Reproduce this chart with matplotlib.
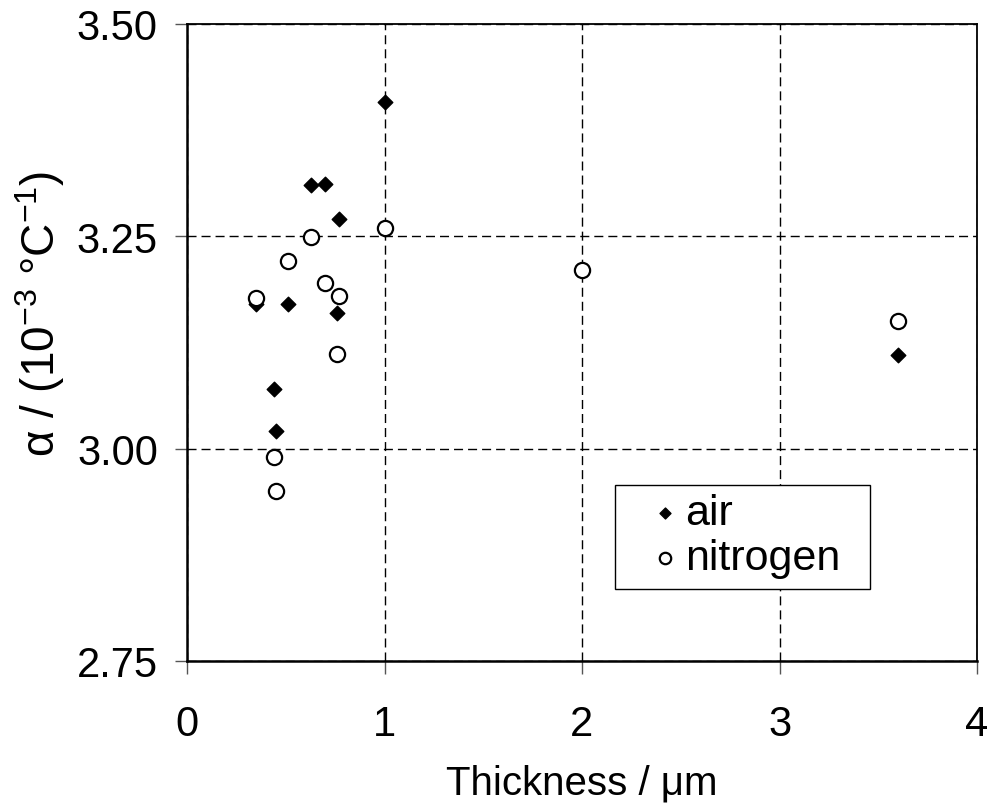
import matplotlib
matplotlib.use("Agg")
import matplotlib.pyplot as plt
from matplotlib.patches import Rectangle

plt.rcParams['font.family'] = ['Liberation Sans', 'DejaVu Sans']
plt.rcParams['mathtext.fontset'] = 'custom'
plt.rcParams['mathtext.rm'] = 'Liberation Sans'
plt.rcParams['mathtext.it'] = 'Liberation Sans:italic'

# air olculeri
air_x = [1.00, 0.63, 0.70, 0.77, 0.35, 0.51, 0.76, 0.44, 0.45, 3.60]
air_y = [3.408, 3.310, 3.312, 3.270, 3.170, 3.170, 3.160, 3.070, 3.021, 3.110]

# nitrogen olculeri
n2_x = [1.00, 0.63, 0.51, 0.70, 0.77, 0.35, 0.76, 0.44, 0.45, 2.00, 3.60]
n2_y = [3.260, 3.249, 3.221, 3.195, 3.180, 3.177, 3.111, 2.990, 2.950, 3.210, 3.150]

x_ticks = [0, 1, 2, 3, 4]
y_ticks = [2.75, 3.00, 3.25, 3.50]

fig = plt.figure(figsize=(9.92, 8.12), dpi=100)
ax = fig.add_axes([187/992, 1 - 662/812, 790/992, 637/812])

ax.scatter(air_x, air_y, marker='D', s=55, color='black', zorder=3, label='air')
ax.scatter(n2_x, n2_y, marker='o', s=120, facecolor='white', edgecolor='black',
           linewidths=1.6, zorder=4, label='nitrogen')

ax.set_xlim(0, 4)
ax.set_ylim(2.75, 3.50)
ax.set_xticks(x_ticks)
ax.set_yticks(y_ticks)
ax.set_yticklabels([f"{v:.2f}" for v in y_ticks])
ax.tick_params(direction='out', length=9, width=1, color='#555555',
               labelsize=30, pad=12)
ax.tick_params(axis='x', pad=22)

# grid cizgileri
ax.grid(True, linestyle=(0, (6.5, 3.6)), color='black', linewidth=1)
ax.set_axisbelow(True)
for s in ax.spines.values():
    s.set_linewidth(1.8)
    s.set_color('black')
ax.spines['top'].set_linewidth(1.3)
ax.spines['right'].set_linewidth(1.3)

ax.set_xlabel('Thickness / μm', fontsize=29, labelpad=14)
ax.set_ylabel(r'α / (10$^{\mathregular{-3}}$ °C$^{\mathregular{-1}}$)', fontsize=33)
ax.yaxis.set_label_coords(-0.152, 0.546)

# legend kutusu ayri ciziliyor
ax.add_patch(Rectangle((0.542, 0.113), 0.322, 0.164, transform=ax.transAxes,
                       facecolor='white', edgecolor='black', linewidth=1, zorder=5))
leg = ax.legend(loc='center left', bbox_to_anchor=(0.592, 0.197),
                borderaxespad=0, borderpad=0, fontsize=31, frameon=False,
                handletextpad=0.2, handlelength=0.5, labelspacing=0.12,
                markerscale=0.75)
leg.set_zorder(6)

fig.savefig("out.png", dpi=100)
